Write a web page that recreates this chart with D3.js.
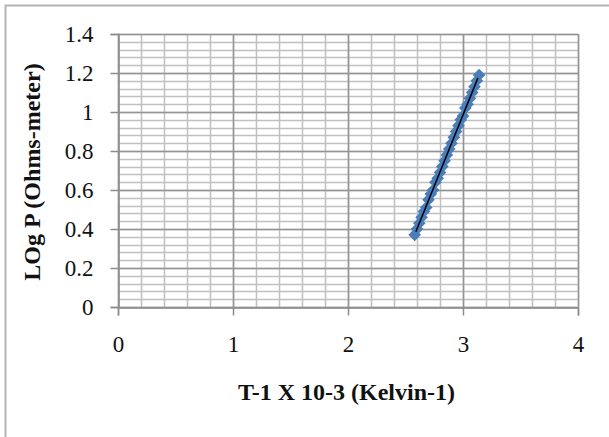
<!DOCTYPE html>
<html>
<head>
<meta charset="utf-8">
<script src="https://cdn.jsdelivr.net/npm/d3@7"></script>
<style>
	body { margin: 0; background: #fff; }
	svg { display: block; }
</style>
</head>
<body>
<svg width="609" height="437"></svg>
<script>
const svg = d3.select('svg');

// data
const invT = [2.58, 2.60, 2.62, 2.64, 2.66, 2.68, 2.70, 2.72, 2.74, 2.76,
	2.78, 2.80, 2.82, 2.84, 2.86, 2.88, 2.90, 2.92, 2.94, 2.96,
	2.98, 3.00, 3.02, 3.04, 3.06, 3.08, 3.10, 3.12, 3.14];
const logP = [0.37, 0.40, 0.43, 0.46, 0.49, 0.51, 0.55, 0.58, 0.60, 0.64,
	0.66, 0.69, 0.72, 0.75, 0.78, 0.81, 0.84, 0.87, 0.90, 0.93,
	0.96, 0.98, 1.02, 1.04, 1.07, 1.10, 1.13, 1.16, 1.19];
const xTicks = [0, 1, 2, 3, 4];
const yTicks = [0, 0.2, 0.4, 0.6, 0.8, 1, 1.2, 1.4];

const x = d3.scaleLinear().domain([0, 4]).range([118, 578]);
const y = d3.scaleLinear().domain([0, 1.4]).range([307, 34]);

// chart frame (only top and left edges show)
svg.append('path')
	.attr('d', 'M5.5,437V5.5H609')
	.attr('fill', 'none')
	.attr('stroke', '#b4b4b4')
	.attr('stroke-width', 2);

// minor grid
const minorY = d3.range(0, 36).map(i => i * 0.04);
const minorX = d3.range(0, 21).map(i => i * 0.2);

svg.append('g').selectAll('line').data(minorY)
	.enter().append('line')
		.attr('x1', x(0)).attr('x2', x(4))
		.attr('y1', d => Math.round(y(d)) + 0.5)
		.attr('y2', d => Math.round(y(d)) + 0.5)
		.attr('stroke', '#c0c0c0')
		.attr('stroke-width', 1.5);

svg.append('g').selectAll('line').data(minorX)
	.enter().append('line')
		.attr('x1', d => Math.round(x(d)) + 0.5)
		.attr('x2', d => Math.round(x(d)) + 0.5)
		.attr('y1', y(0)).attr('y2', y(1.4))
		.attr('stroke', '#c0c0c0')
		.attr('stroke-width', 1.5);

// major grid
svg.append('g').selectAll('line').data(yTicks)
	.enter().append('line')
		.attr('x1', x(0)).attr('x2', x(4))
		.attr('y1', d => Math.round(y(d)) + 0.5)
		.attr('y2', d => Math.round(y(d)) + 0.5)
		.attr('stroke', '#949494')
		.attr('stroke-width', 1.5);

svg.append('g').selectAll('line').data(xTicks)
	.enter().append('line')
		.attr('x1', d => Math.round(x(d)) + 0.5)
		.attr('x2', d => Math.round(x(d)) + 0.5)
		.attr('y1', y(0)).attr('y2', y(1.4))
		.attr('stroke', '#949494')
		.attr('stroke-width', 1.5);

// axes
const yAxis = svg.append('g')
	.attr('transform', 'translate(' + (Math.round(x(0)) + 0.5) + ',0)')
	.call(d3.axisLeft(y).tickValues(yTicks).tickSize(8).tickPadding(17)
		.tickFormat(d => d3.format('~g')(d)));

const xAxis = svg.append('g')
	.attr('transform', 'translate(0,' + (Math.round(y(0)) + 0.5) + ')')
	.call(d3.axisBottom(x).tickValues(xTicks).tickSize(8).tickPadding(20)
		.tickFormat(d3.format('d')));

[yAxis, xAxis].forEach(a => {
	a.select('.domain').attr('stroke', '#8c8c8c').attr('stroke-width', 1.5);
	a.selectAll('.tick line').attr('stroke', '#8c8c8c').attr('stroke-width', 1.5);
	a.selectAll('text')
		.attr('fill', '#111')
		.attr('font-family', '"Liberation Serif", serif')
		.attr('font-size', '23px');
});

// points: Excel style diamonds (square turned 45 degrees)
const pts = invT.map((d, i) => [d, logP[i]]);

svg.append('g').selectAll('path').data(pts)
	.enter().append('path')
		.attr('d', d3.symbol().type(d3.symbolSquare).size(80))
		.attr('transform', d => 'translate(' + x(d[0]) + ',' + y(d[1]) + ') rotate(45)')
		.attr('fill', '#4a7ebb');

// linear trendline
const mx = d3.mean(invT), my = d3.mean(logP);
const slope = d3.sum(pts, d => (d[0] - mx) * (d[1] - my)) / d3.sum(invT, d => (d - mx) * (d - mx));
const icpt = my - slope * mx;
const x0 = d3.min(invT) + 0.01, x1 = d3.max(invT) - 0.01;

svg.append('line')
	.attr('x1', x(x0)).attr('y1', y(icpt + slope * x0))
	.attr('x2', x(x1)).attr('y2', y(icpt + slope * x1))
	.attr('stroke', '#000')
	.attr('stroke-width', 1.5);

// titles
svg.append('text')
	.text('T-1 X 10-3 (Kelvin-1)')
	.attr('x', 346.5)
	.attr('y', 400)
	.attr('text-anchor', 'middle')
	.attr('font-family', '"Liberation Serif", serif')
	.attr('font-weight', 'bold')
	.attr('font-size', '24px')
	.attr('fill', '#111');

svg.append('text')
	.text('LOg P (Ohms-meter)')
	.attr('transform', 'translate(40,172) rotate(-90)')
	.attr('text-anchor', 'middle')
	.attr('font-family', '"Liberation Serif", serif')
	.attr('font-weight', 'bold')
	.attr('font-size', '24px')
	.attr('fill', '#111');
</script>
</body>
</html>
